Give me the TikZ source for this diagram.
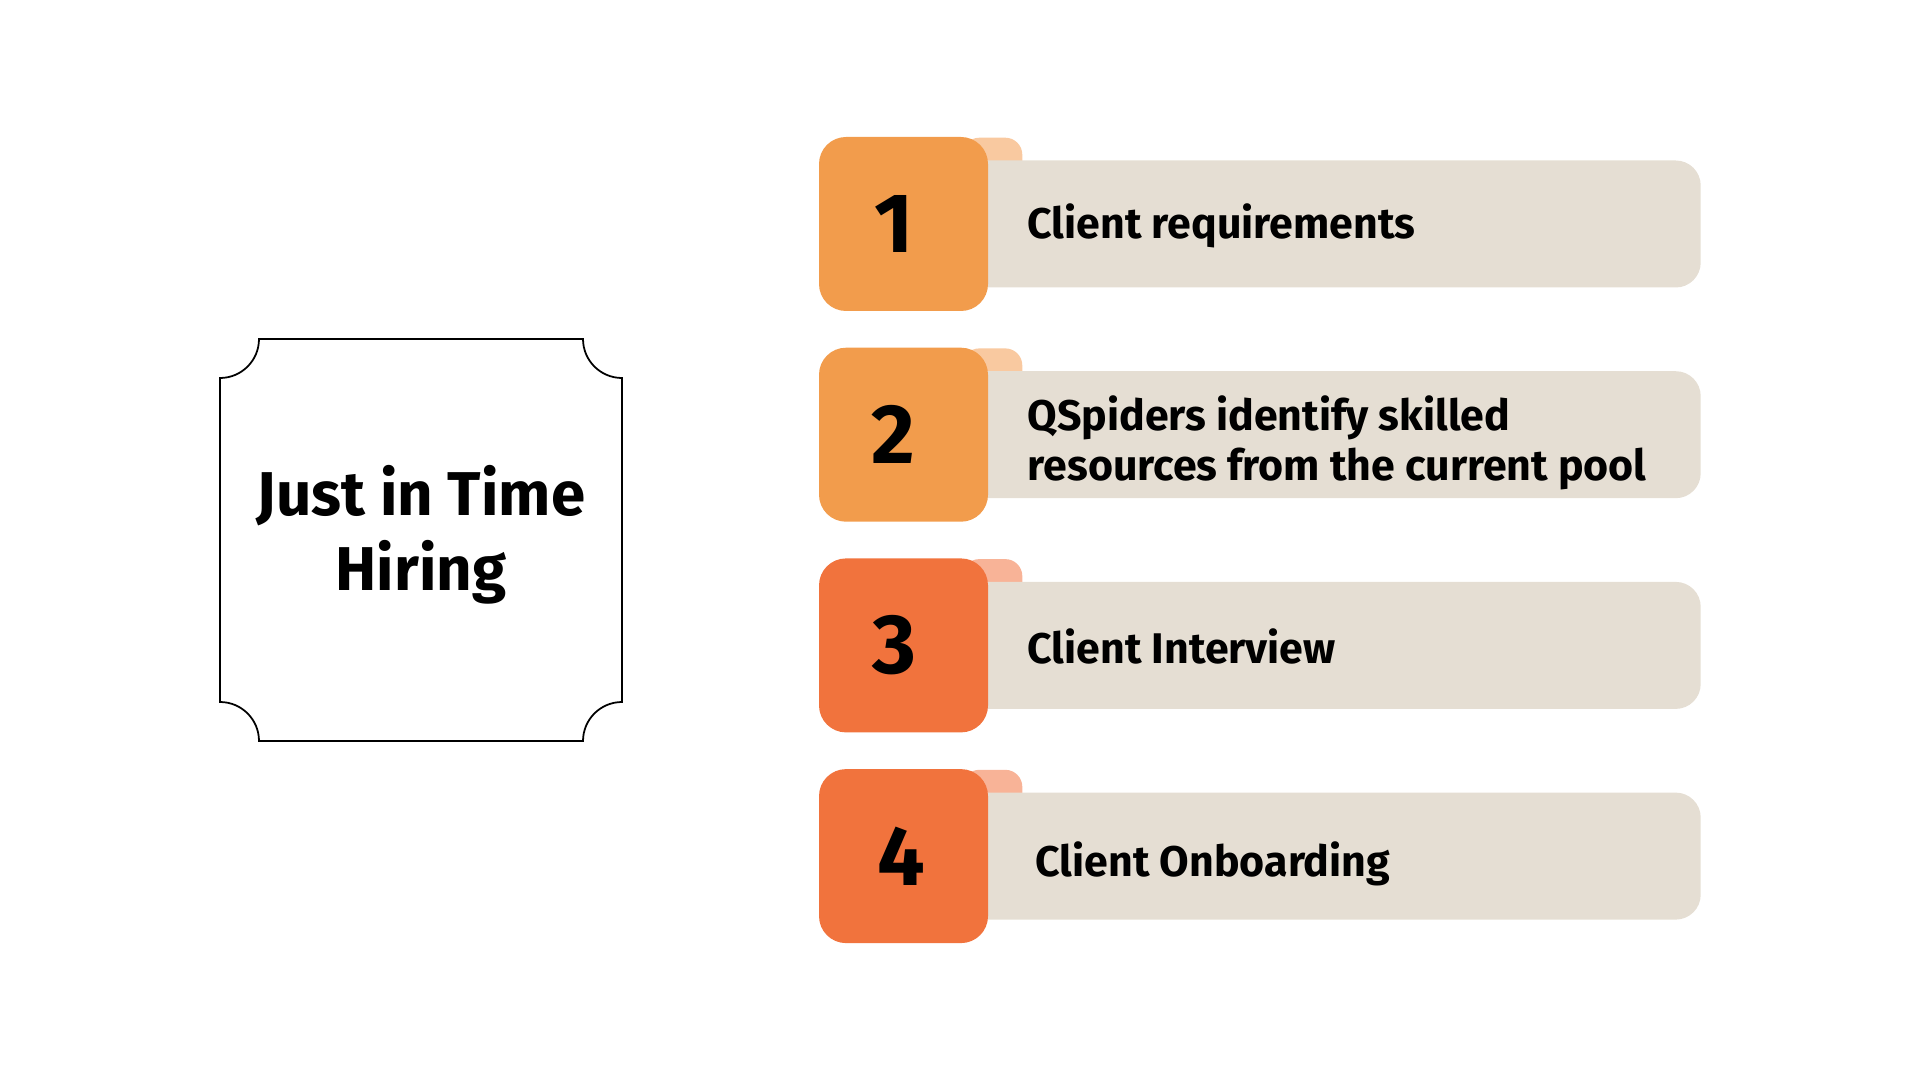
\documentclass[tikz,border=0pt]{standalone}
\usepackage{fontspec}
\setmainfont{Fira Sans}
\usetikzlibrary{positioning, backgrounds}

\definecolor{stepLight}{HTML}{F29C4C}
\definecolor{stepDark}{HTML}{F1733D}
\definecolor{tabLight}{HTML}{F9C9A0}
\definecolor{tabDark}{HTML}{F8B397}
\definecolor{barGray}{HTML}{E5DED3}

\begin{document}
\begin{tikzpicture}[num/.style={rectangle, rounded corners=0.27cm, minimum width=1.69cm, minimum height=1.74cm, inner sep=0pt, outer sep=0pt, font=\fontsize{24}{24}\selectfont\bfseries},
        bar/.style={rectangle, fill=barGray, rounded corners=0.25cm, minimum width=7.5cm, minimum height=1.27cm, inner sep=0pt},
        tab/.style={rectangle, rounded corners=0.17cm, minimum width=0.6cm, minimum height=0.5cm, inner sep=0pt, anchor=north east},
        txt/.style={anchor=west, align=left, inner sep=0pt, font=\fontsize{12.2}{14.2}\selectfont\bfseries},
        title/.style={align=center, inner sep=0pt, font=\fontsize{17.6}{21.3}\selectfont\bfseries},
        node distance=0.367cm]
        \useasboundingbox (0,0) rectangle (19.2,-10.8);

        % card on the left
        \draw[line width=0.5pt] (2.59,-3.39) -- (5.83,-3.39) arc[start angle=180, end angle=270, radius=0.39]
            -- (6.22,-7.02) arc[start angle=90, end angle=180, radius=0.39]
            -- (2.59,-7.41) arc[start angle=0, end angle=90, radius=0.39]
            -- (2.20,-3.78) arc[start angle=-90, end angle=0, radius=0.39] -- cycle;
        \node[title] (ttl) at (4.21,-5.35) {Just in Time\\Hiring};

        % steps
        \node[num, fill=stepLight] (n1) at (9.035,-2.24) {\hspace*{-0.18cm}1};
        \node[num, fill=stepLight] (n2) [below = of n1] {\hspace*{-0.2cm}2};
        \node[num, fill=stepDark] (n3) [below = of n2] {\hspace*{-0.18cm}3};
        \node[num, fill=stepDark] (n4) [below = of n3] {\hspace*{-0.05cm}4};

        \node[txt] (t1) [right = 0.39cm of n1, yshift=-0.02cm] {Client requirements};
        \node[txt] (t2) [right = 0.39cm of n2, yshift=-0.08cm] {QSpiders identify skilled\\resources from the current pool};
        \node[txt] (t3) [right = 0.39cm of n3, yshift=-0.01cm] {Client Interview};
        \node[txt] (t4) [right = 0.47cm of n4, yshift=-0.08cm] {Client Onboarding};

        \begin{scope}[on background layer]
            \node[tab, fill=tabLight] (k1) at ([xshift=0.35cm]n1.north east) {};
            \node[tab, fill=tabLight] (k2) at ([xshift=0.35cm]n2.north east) {};
            \node[tab, fill=tabDark] (k3) at ([xshift=0.35cm]n3.north east) {};
            \node[tab, fill=tabDark] (k4) at ([xshift=0.35cm]n4.north east) {};

            \node[bar] (b1) [right = -0.38cm of n1] {};
            \node[bar] (b2) [right = -0.38cm of n2] {};
            \node[bar] (b3) [right = -0.38cm of n3] {};
            \node[bar] (b4) [right = -0.38cm of n4] {};
        \end{scope}
    \end{tikzpicture}
\end{document}
